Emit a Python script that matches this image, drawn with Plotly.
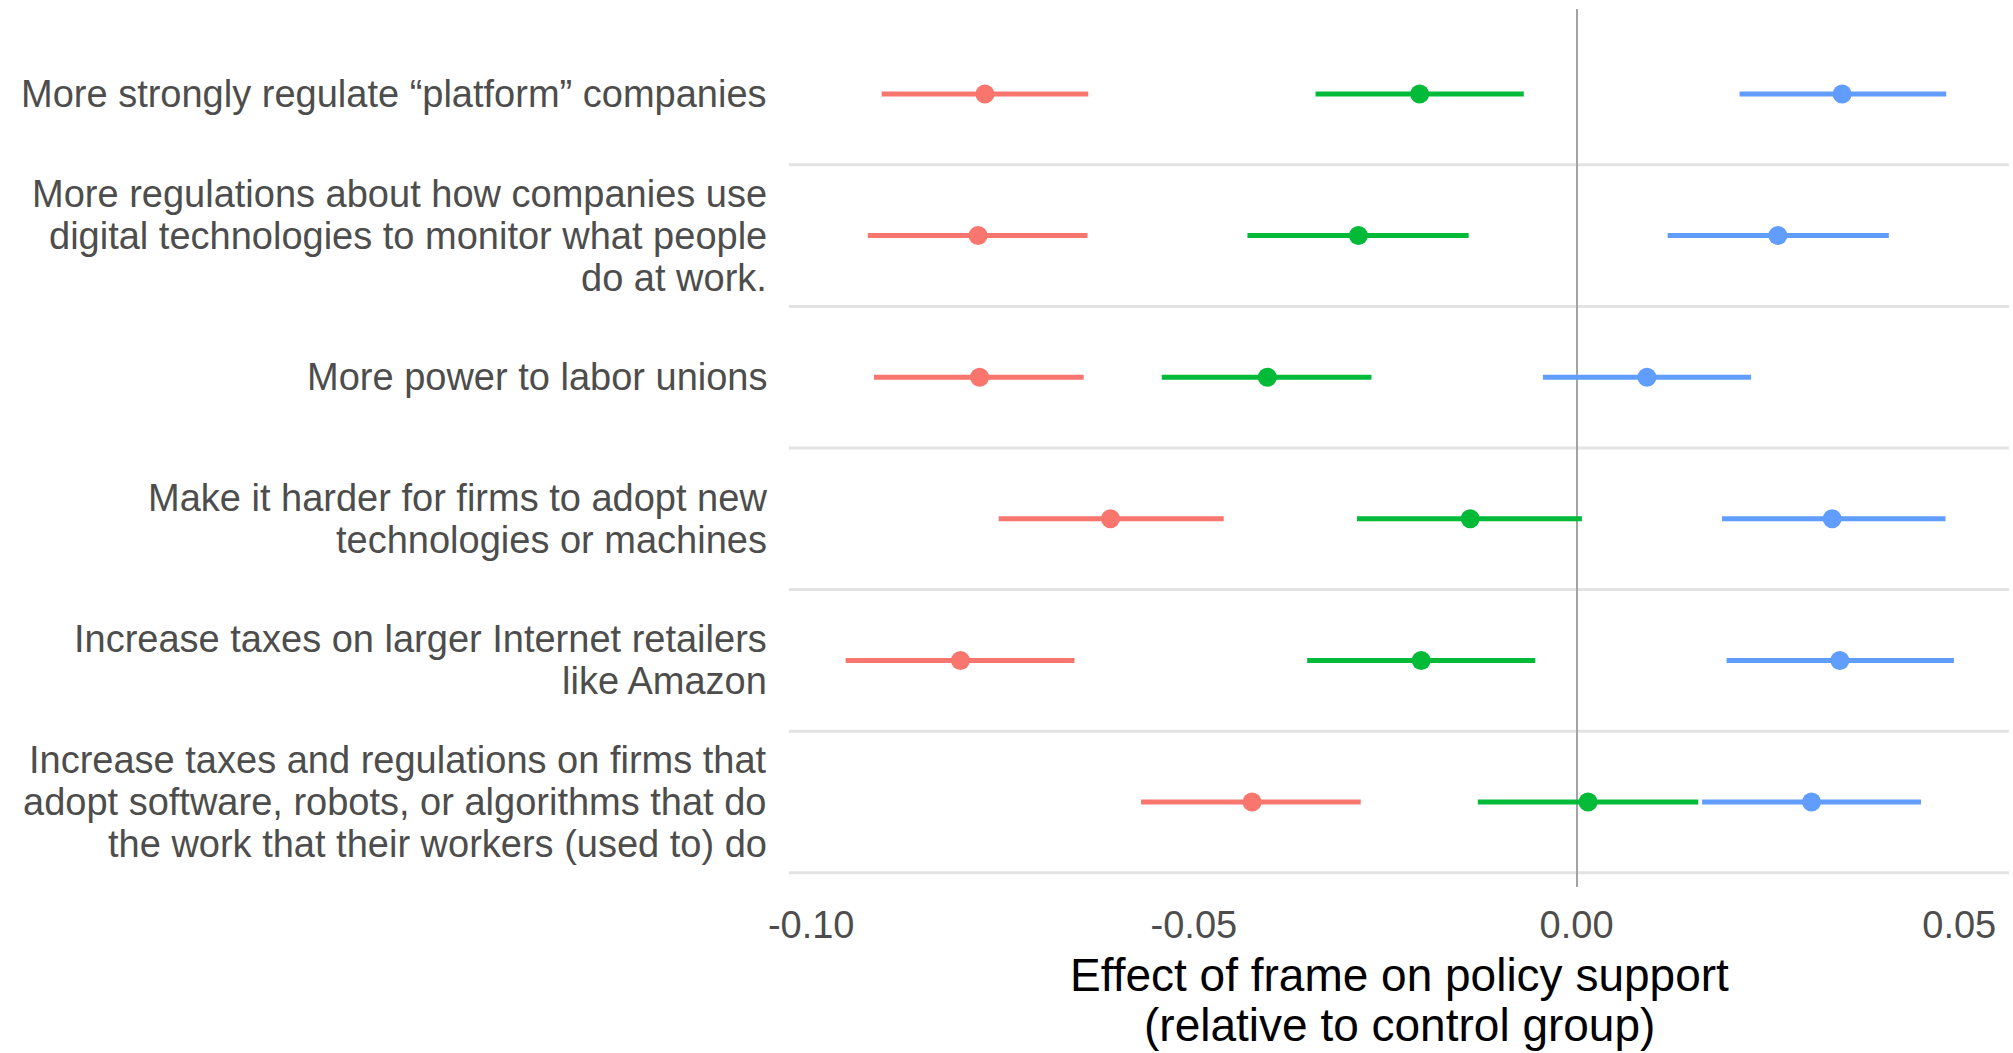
import plotly.graph_objects as go

# Policy items, top to bottom
policies = [
    "More strongly regulate \u201cplatform\u201d companies",
    "More regulations about how companies use\ndigital technologies to monitor what people\ndo at work.",
    "More power to labor unions",
    "Make it harder for firms to adopt new\ntechnologies or machines",
    "Increase taxes on larger Internet retailers\nlike Amazon",
    "Increase taxes and regulations on firms that\nadopt software, robots, or algorithms that do\nthe work that their workers (used to) do",
]

# Frame effects: point estimate with lower / upper confidence bounds
red_est = [-0.0773, -0.0782, -0.0780, -0.0609, -0.0805, -0.0424]
red_lo = [-0.0908, -0.0926, -0.0918, -0.0755, -0.0955, -0.0569]
red_hi = [-0.0638, -0.0639, -0.0644, -0.0461, -0.0656, -0.0282]

green_est = [-0.0205, -0.0285, -0.0404, -0.0139, -0.0203, 0.0015]
green_lo = [-0.0341, -0.0430, -0.0542, -0.0287, -0.0352, -0.0129]
green_hi = [-0.0069, -0.0141, -0.0268, 0.0007, -0.0054, 0.0159]

blue_est = [0.0347, 0.0263, 0.0092, 0.0334, 0.0344, 0.0307]
blue_lo = [0.0213, 0.0119, -0.0044, 0.0190, 0.0196, 0.0164]
blue_hi = [0.0483, 0.0408, 0.0228, 0.0482, 0.0493, 0.0450]

x_ticks = [-0.10, -0.05, 0.00, 0.05]
x_tick_labels = ["-0.10", "-0.05", "0.00", "0.05"]

n = len(policies)
rows = [n - i for i in range(n)]  # first policy at top

series = [
    (red_est, red_lo, red_hi, "#F8766D"),
    (green_est, green_lo, green_hi, "#00BA38"),
    (blue_est, blue_lo, blue_hi, "#619CFF"),
]

fig = go.Figure()
for est, lo, hi, col in series:
    fig.add_trace(go.Scatter(
        x=est, y=rows, mode="markers",
        marker=dict(color=col, size=19, line=dict(width=0)),
        error_x=dict(
            type="data", symmetric=False,
            array=[h - e for h, e in zip(hi, est)],
            arrayminus=[e - l for e, l in zip(est, lo)],
            color=col, thickness=5, width=0,
        ),
        showlegend=False, hoverinfo="skip",
    ))

# Separators between policy rows
shapes = []
for k in range(n):
    b = k + 0.5
    shapes.append(dict(type="line", xref="paper", x0=0, x1=1, yref="y", y0=b, y1=b,
                       line=dict(color="#E3E3E3", width=3), layer="below"))

FONT = "Liberation Sans, Arial, sans-serif"
annotations = []
LINE_GAP = 42
for label, r in zip(policies, rows):
    parts = label.split("\n")
    m = len(parts)
    for j, part in enumerate(parts):
        annotations.append(dict(
            text=part, xref="paper", x=0, xanchor="right", xshift=-20,
            yref="y", y=r, yanchor="middle", yshift=((m - 1) / 2 - j) * LINE_GAP,
            showarrow=False, font=dict(family=FONT, size=38, color="#4D4D4D"),
        ))

title_lines = ["Effect of frame on policy support", "(relative to control group)"]
for j, t in enumerate(title_lines):
    annotations.append(dict(
        text=t, xref="paper", x=0.5, xanchor="center",
        yref="paper", y=0, yanchor="middle", yshift=-88 - 50 * j,
        showarrow=False, font=dict(family=FONT, size=46, color="#000000"),
    ))

fig.update_layout(
    width=2013, height=1053,
    margin=dict(l=789, r=4, t=9, b=166),
    paper_bgcolor="white", plot_bgcolor="white",
    font=dict(family=FONT),
    shapes=shapes, annotations=annotations,
    xaxis=dict(
        range=[-0.1029, 0.0565], tickvals=x_ticks, ticktext=x_tick_labels,
        showgrid=False, zeroline=True, zerolinecolor="#A3A3A3", zerolinewidth=2,
        ticks="outside", ticklen=4, tickcolor="rgba(0,0,0,0)",
        tickfont=dict(family=FONT, size=38, color="#4D4D4D"),
        showline=False, fixedrange=True,
    ),
    yaxis=dict(
        range=[0.4, n + 0.6], showticklabels=False, showgrid=False,
        zeroline=False, showline=False, ticks="", fixedrange=True,
    ),
)

fig.write_html("out.html")
